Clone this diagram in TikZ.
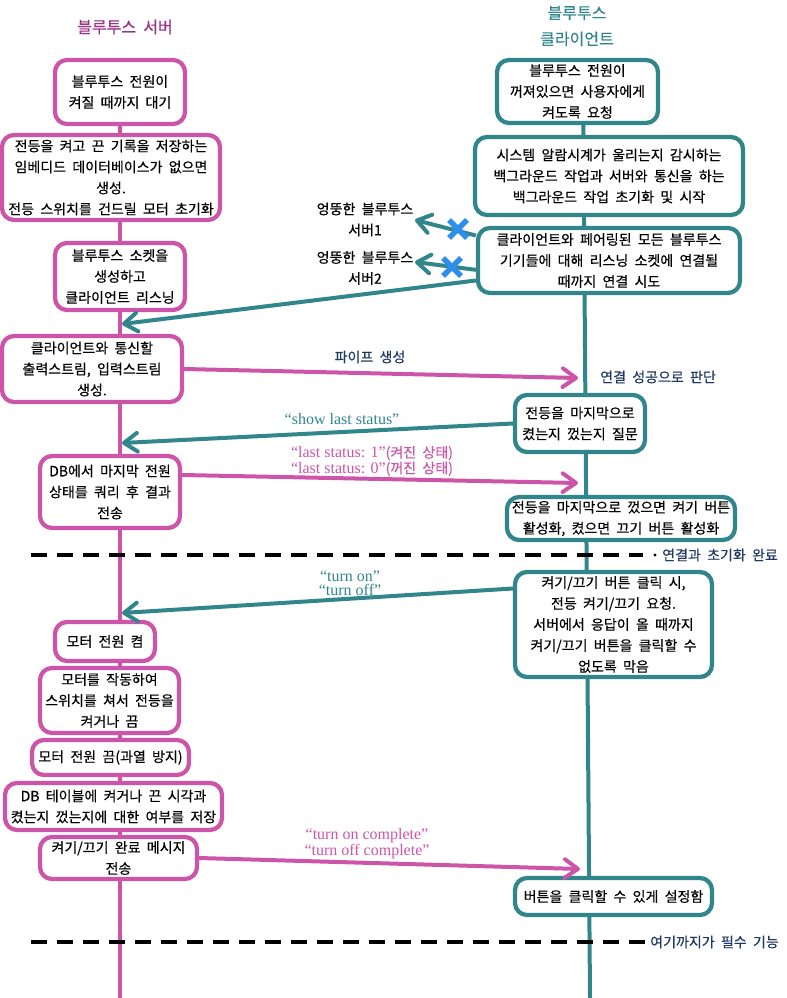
\documentclass[tikz,border=0pt]{standalone}
\usepackage{fontspec}
\setmainfont{Noto Sans CJK KR}[WordSpace=2, FakeBold=0.4]
\newfontfamily\lat{Liberation Serif}
\usetikzlibrary{arrows.meta}
\definecolor{mag}{HTML}{CC55AA}
\definecolor{tl}{HTML}{31868C}
\definecolor{navy}{HTML}{1F3864}
\definecolor{xblue}{HTML}{2E8FEA}
\definecolor{ttl}{HTML}{993388}
\tikzset{
  txt/.style={font=\fontsize{10.5}{15.75}\selectfont, align=center, inner sep=0pt},
  sz/.style 2 args={minimum width={#1*0.75pt}, minimum height={#2*0.75pt}},
  lbox/.style={txt, draw=mag, line width=3.2pt, rounded corners=9pt, fill=white},
  rbox/.style={txt, draw=tl, line width=3.2pt, rounded corners=9pt, fill=white},
  life/.style={line width=3pt},
  msg/.style={line width=3pt, -{Straight Barb[length=10pt,width=14pt,round]}},
  sep/.style={black, line width=2.4pt, dash pattern=on 12pt off 7.5pt},
  lab/.style={txt, text=navy},
  small/.style={font=\fontsize{10.5}{10}\selectfont, align=center, inner sep=0pt},
  ttlfont/.style={font=\fontsize{12}{19.5}\selectfont},
}
\begin{document}
\begin{tikzpicture}[x=0.75pt,y=-0.75pt]
\useasboundingbox (0,0) rectangle (786,998);

% titles
\node[txt, ttlfont, text=ttl] (T1) at (125,27) {블루투스 서버};
\node[txt, ttlfont, text=tl] (T2) at (577,26) {블루투스\\클라이언트};

% lifelines
\coordinate (Ltop) at (120,92);
\coordinate (Lbot) at (120,998);
\coordinate (Rtop) at (583,92);
\coordinate (Rbot) at (590,998);
\draw[life, mag] (Ltop) -- (Lbot);
\draw[life, tl] (Rtop) -- (Rbot);

% separators
\coordinate (s1a) at (31,555);
\coordinate (s1b) at (643,555);
\coordinate (s2a) at (31,942);
\coordinate (s2b) at (645,942);
\draw[sep] (s1a) -- (s1b);
\fill[black] (655,555) circle (1.3pt);
\node[lab, anchor=west] (S1) at (662,555) {연결과 초기화 완료};
\draw[sep] (s2a) -- (s2b);
\node[lab, anchor=west] (S2) at (650,942) {여기까지가 필수 기능};

% server boxes
\node[lbox, sz={130}{64}] (L1) at (120,92) {블루투스 전원이\\켜질 때까지 대기};
\node[lbox, sz={218}{85}] (L2) at (111,177.5) {전등을 켜고 끈 기록을 저장하는\\임베디드 데이터베이스가 없으면\\생성.\\전등 스위치를 건드릴 모터 초기화};
\node[lbox, sz={130}{67}] (L3) at (120,276.5) {블루투스 소켓을\\생성하고\\클라이언트 리스닝};
\node[lbox, sz={180}{66}] (L4) at (92,369) {클라이언트와 통신할\\출력스트림, 입력스트림\\생성.};
\node[lbox, sz={140}{72}] (L5) at (110,492) {DB에서 마지막 전원\\상태를 쿼리 후 결과\\전송};
\node[lbox, sz={100}{39}] (L6) at (105,641.5) {모터 전원 켬};
\node[lbox, sz={139}{65}] (L7) at (109.5,700.5) {모터를 작동하여\\스위치를 쳐서 전등을\\켜거나 끔};
\node[lbox, sz={157}{35}] (L8) at (110.5,757.5) {모터 전원 끔(과열 방지)};
\node[lbox, sz={217}{47}] (L9) at (113.5,806.5) {DB 테이블에 켜거나 끈 시각과\\켰는지 껐는지에 대한 여부를 저장};
\node[lbox, sz={157}{42}] (L10) at (118.5,858) {켜기/끄기 완료 메시지\\전송};

% client boxes
\node[rbox, sz={161}{63}] (R1) at (577.5,91.5) {블루투스 전원이\\꺼져있으면 사용자에게\\켜도록 요청};
\node[rbox, sz={268}{78}] (R2) at (609,176) {시스템 알람시계가 울리는지 감시하는\\백그라운드 작업과 서버와 통신을 하는\\백그라운드 작업 초기화 및 시작};
\node[rbox, sz={262}{65}] (R3) at (609,260.5) {클라이언트와 페어링된 모든 블루투스\\기기들에 대해 리스닝 소켓에 연결될\\때까지 연결 시도};
\node[rbox, sz={130}{57}] (R4) at (580,423.5) {전등을 마지막으로\\켰는지 껐는지 질문};
\node[rbox, sz={228}{43}] (R5) at (621,518.5) {전등을 마지막으로 껐으면 켜기 버튼\\활성화, 켰으면 끄기 버튼 활성화};
\node[rbox, sz={197}{105}] (R6) at (613.5,624.5) {켜기/끄기 버튼 클릭 시,\\전등 켜기/끄기 요청.\\서버에서 응답이 올 때까지\\켜기/끄기 버튼을 클릭할 수\\없도록 막음};
\node[rbox, sz={197}{37}] (R7) at (613.5,896.5) {버튼을 클릭할 수 있게 설정함};

% wrong servers
\node[lab, text=black] (W1) at (365,219.5) {엉뚱한 블루투스\\서버1};
\node[lab, text=black] (W2) at (365,268) {엉뚱한 블루투스\\서버2};
\coordinate (w1) at (415,220);
\coordinate (w2) at (415,262);
\draw[msg, tl] ([yshift=18.75pt]R3.west) -- (w1);
\draw[msg, tl] ([yshift=-7pt]R3.west) -- (w2);
\draw[xblue, line width=4.2pt] (449,220) -- (467,238) (449,238) -- (467,220);
\draw[xblue, line width=4.2pt] (443,258) -- (461,276) (443,276) -- (461,258);

% messages
\coordinate (a0) at (122,324);
\draw[msg, tl] ([yshift=-15pt]R3.west) -- (a0);

\coordinate (a1) at (578,378);
\draw[msg, mag] (L4.east) -- (a1);
\node[lab] (P1) at (370,357) {파이프 생성};
\node[lab, anchor=west] (P2) at (600,377) {연결 성공으로 판단};

\coordinate (a2) at (122,443);
\draw[msg, tl] (R4.west) -- (a2);
\node[small, text=tl] (P3) at (342,419) {\lat\fontsize{12}{12}\selectfont “show last status”};

\coordinate (a3) at (578,483);
\draw[msg, mag] ([yshift=12.75pt]L5.east) -- (a3);
\node[small, text=mag, font=\fontsize{10.5}{9}\selectfont] (P4) at (372,461) {{\lat\fontsize{12}{9}\selectfont “last status: 1”}(켜진 상태)\\{\lat\fontsize{12}{9}\selectfont “last status: 0”}(꺼진 상태)};

\coordinate (a4) at (122,613);
\draw[msg, tl] ([yshift=27pt]R6.west) -- (a4);
\node[small, text=tl, font=\fontsize{12}{10.5}\selectfont] (P5) at (350,583) {\lat “turn on”\\\lat “turn off”};

\coordinate (a5) at (580,869);
\draw[msg, mag] (L10.east) -- (a5);
\node[small, text=mag, font=\fontsize{12}{10.5}\selectfont] (P6) at (367,844) {\lat “turn on complete”\\\lat “turn off complete”};

\end{tikzpicture}
\end{document}
